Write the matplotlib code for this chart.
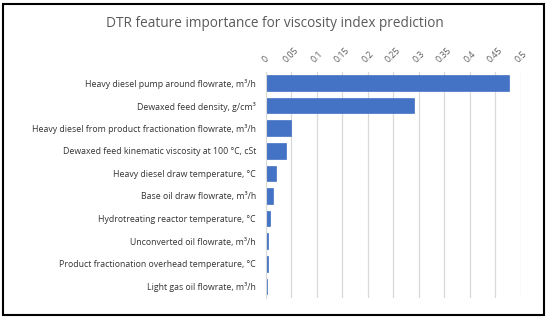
import matplotlib
matplotlib.use("Agg")
import matplotlib.pyplot as plt
from matplotlib.patches import Rectangle

features = [
    "Heavy diesel pump around flowrate, m³/h",
    "Dewaxed feed density, g/cm³",
    "Heavy diesel from product fractionation flowrate, m³/h",
    "Dewaxed feed kinematic viscosity at 100 °C, cSt",
    "Heavy diesel draw temperature, °C",
    "Base oil draw flowrate, m³/h",
    "Hydrotreating reactor temperature, °C",
    "Unconverted oil flowrate, m³/h",
    "Product fractionation overhead temperature, °C",
    "Light gas oil flowrate, m³/h",
]
importance = [0.477, 0.291, 0.050, 0.040, 0.021, 0.0135, 0.008, 0.0055, 0.0055, 0.0035]
ticks = [0, 0.05, 0.1, 0.15, 0.2, 0.25, 0.3, 0.35, 0.4, 0.45, 0.5]
tick_labels = ["0", "0.05", "0.1", "0.15", "0.2", "0.25", "0.3", "0.35", "0.4", "0.45", "0.5"]

plt.rcParams['font.family'] = ['Open Sans', 'DejaVu Sans']

fig = plt.figure(figsize=(5.5, 3.19), dpi=100)
ax = fig.add_axes([0.483, 0.067, 0.464, 0.708])

y = list(range(len(features)))
ax.barh(y, importance, height=0.69, color="#4472C4",
        edgecolor="#4472C4", linewidth=0.5)
ax.set_ylim(len(features) - 0.5, -0.5)
ax.set_xlim(0, 0.5)

ax.set_yticks(y)
ax.set_yticklabels(features, fontsize=6.3, color="#333333")
ax.tick_params(axis='y', length=0, pad=7)

ax.xaxis.tick_top()
ax.set_xticks(ticks)
ax.set_xticklabels(tick_labels, rotation=45, fontsize=6.3, color="#595959",
                   ha='center', va='bottom')
ax.tick_params(axis='x', length=0, pad=5)

ax.grid(axis='x', color="#d9d9d9", linewidth=0.9)
ax.set_axisbelow(True)
for s in ['top', 'right', 'bottom']:
    ax.spines[s].set_visible(False)
ax.spines['left'].set_color("#d9d9d9")

fig.text(0.5, 0.925, "DTR feature importance for viscosity index prediction",
         ha='center', va='center', fontsize=9.8, color="#595959")

fig.patches.append(Rectangle((3 / 550, 4 / 319), 541 / 550, 311 / 319,
                             transform=fig.transFigure, fill=False,
                             edgecolor="black", linewidth=1.5))

fig.savefig("out.png", dpi=100)
